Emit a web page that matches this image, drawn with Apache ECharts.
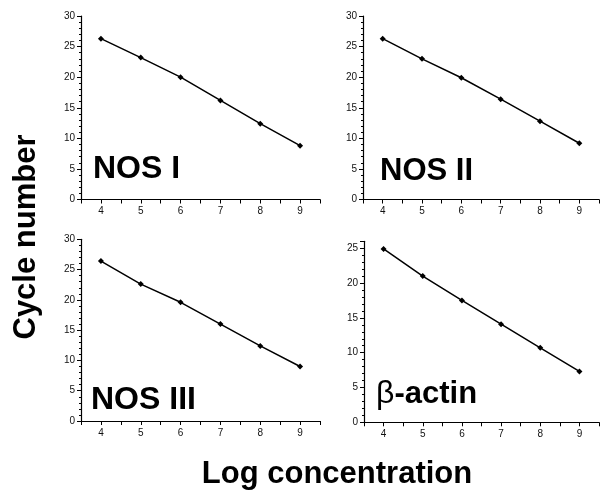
<!DOCTYPE html>
<html>
<head>
<meta charset="utf-8">
<script src="https://cdn.jsdelivr.net/npm/echarts@6/dist/echarts.min.js"></script>
<style>
  html, body { margin: 0; padding: 0; background: #fff; }
  #chart { width: 602px; height: 492px; }
</style>
</head>
<body>
<div id="chart"></div>
<script>
// values
const logConc = [4, 5, 6, 7, 8, 9]
const nosI = [26.3, 23.2, 20.0, 16.2, 12.4, 8.8]
const nosII = [26.3, 23.0, 19.9, 16.4, 12.8, 9.2]
const nosIII = [26.4, 22.6, 19.6, 16.0, 12.4, 9.0]
const betaActin = [24.9, 21.0, 17.5, 14.1, 10.7, 7.3]
const yMaxes = [30, 30, 30, 26]

const font = '"Liberation Sans", Arial, Helvetica, sans-serif'
const panels = [nosI, nosII, nosIII, betaActin]
const grids = [
  { left: 81, top: 16, width: 239, height: 183.5 },
  { left: 363, top: 16, width: 240, height: 183.5 },
  { left: 81, top: 239.3, width: 239, height: 181.7 },
  { left: 364, top: 241.3, width: 240, height: 181 }
]

const xAxes = grids.map((g, i) => ({
  type: 'value',
  gridIndex: i,
  min: 3.5,
  max: 9.5,
  interval: 0.5,
  splitLine: { show: false },
  axisLine: { lineStyle: { color: '#000', width: 1.2 } },
  axisTick: { length: 4, lineStyle: { color: '#000', width: 1 } },
  axisLabel: {
    margin: 7,
    fontSize: 10,
    fontFamily: font,
    color: '#111',
    formatter: v => (Number.isInteger(v) ? String(v) : '')
  }
}))

// main y axes (labels + major ticks), plus a second one per grid for the 1-unit minor ticks
const yAxes = []
grids.forEach((g, i) => {
  yAxes.push({
    type: 'value',
    gridIndex: i,
    min: 0,
    max: yMaxes[i],
    interval: 5,
    splitLine: { show: false },
    axisLine: { show: true, lineStyle: { color: '#000', width: 1.2 } },
    axisTick: { length: 4, lineStyle: { color: '#000', width: 1 } },
    axisLabel: {
      margin: 6,
      fontSize: 10,
      fontFamily: font,
      color: '#111',
      formatter: v => (v % 5 === 0 ? String(v) : '')
    }
  })
})
grids.forEach((g, i) => {
  yAxes.push({
    type: 'value',
    gridIndex: i,
    position: 'left',
    min: 0,
    max: yMaxes[i],
    interval: 1,
    splitLine: { show: false },
    axisLine: { show: false },
    axisTick: { length: 2, lineStyle: { color: '#000', width: 1 } },
    axisLabel: { show: false }
  })
})

const series = panels.map((vals, i) => ({
  type: 'line',
  xAxisIndex: i,
  yAxisIndex: i,
  data: logConc.map((x, k) => [x, vals[k]]),
  symbol: 'diamond',
  symbolSize: 6,
  itemStyle: { color: '#000' },
  lineStyle: { color: '#000', width: 1.5 },
  silent: true
}))

const label = (text, x, y, size) => ({
  type: 'text',
  x: x,
  y: y,
  style: {
    text: text,
    fontSize: size,
    fontWeight: 'bold',
    fontFamily: font,
    fill: '#000',
    align: 'left',
    verticalAlign: 'middle'
  }
})

const option = {
  animation: false,
  backgroundColor: '#fff',
  grid: grids,
  xAxis: xAxes,
  yAxis: yAxes,
  series: series,
  graphic: [
    label('NOS I', 93, 169, 32),
    label('NOS II', 380, 171.5, 31),
    label('NOS III', 91, 400, 32),
    {
      type: 'text',
      x: 376,
      y: 394,
      style: {
        text: '{b|β}{a|-actin}',
        verticalAlign: 'middle',
        rich: {
          b: { fontSize: 32, fontFamily: font, fontWeight: 'normal', fill: '#000' },
          a: { fontSize: 31, fontFamily: font, fontWeight: 'bold', fill: '#000' }
        }
      }
    },
    {
      type: 'text',
      x: 26,
      y: 237,
      rotation: Math.PI / 2,
      style: {
        text: 'Cycle number',
        fontSize: 31,
        fontWeight: 'bold',
        fontFamily: font,
        fill: '#000',
        align: 'center',
        verticalAlign: 'middle'
      }
    },
    {
      type: 'text',
      x: 337,
      y: 474,
      style: {
        text: 'Log concentration',
        fontSize: 31,
        fontWeight: 'bold',
        fontFamily: font,
        fill: '#000',
        align: 'center',
        verticalAlign: 'middle'
      }
    }
  ]
}

const chart = echarts.init(document.getElementById('chart'))
chart.setOption(option)
</script>
</body>
</html>
